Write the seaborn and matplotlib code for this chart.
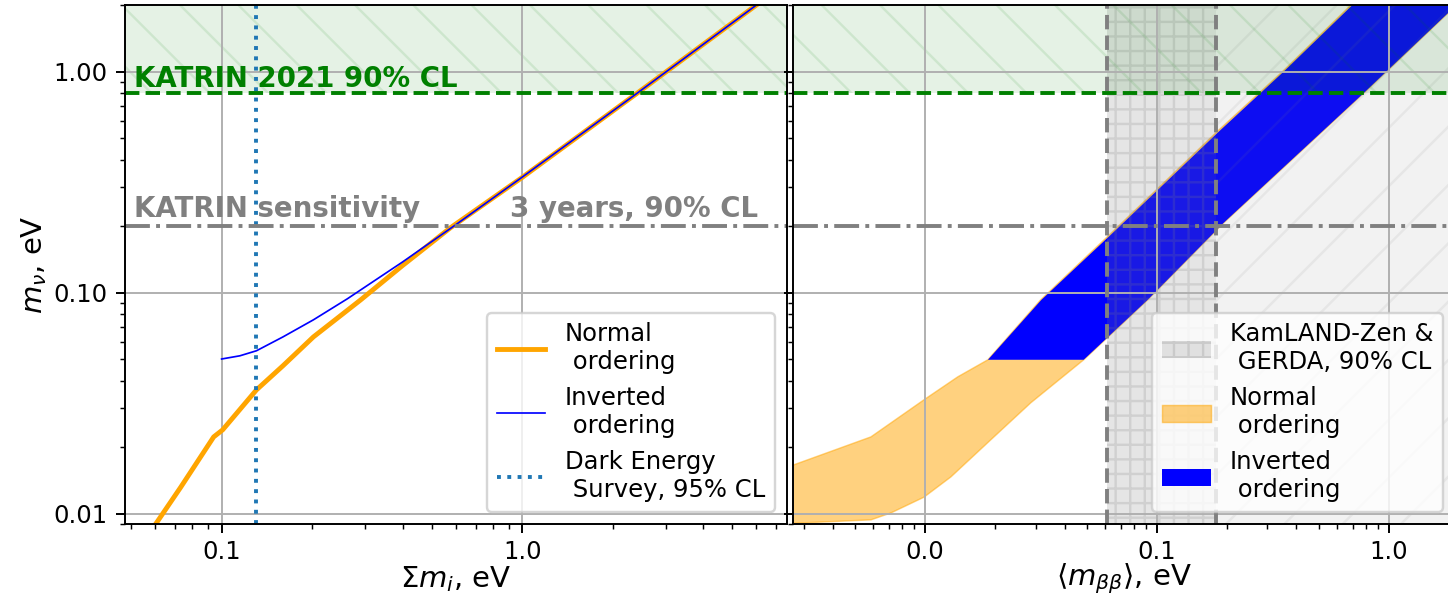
import numpy as np
import pandas as pd
import seaborn as sns
import matplotlib
matplotlib.use("Agg")
import matplotlib.pyplot as plt
from matplotlib.ticker import FixedLocator, FormatStrFormatter, NullFormatter

# ---------------- data ----------------
# Left panel: effective beta mass vs sum of masses
sum_no = [0.059, 0.0731, 0.0941, 0.1008, 0.1306, 0.16, 0.202, 0.29, 0.40, 0.577, 1.0, 2.41, 6.5]
m_no = [0.0086, 0.0132, 0.0223, 0.0240, 0.0364, 0.0468, 0.0632, 0.0929, 0.133, 0.197, 0.333, 0.80, 2.17]
sum_io = [0.1, 0.115, 0.1306, 0.16, 0.202, 0.262, 0.40, 0.60, 1.0, 2.41, 6.5]
m_io = [0.0502, 0.0519, 0.0547, 0.0632, 0.0755, 0.094, 0.138, 0.203, 0.334, 0.80, 2.17]

des_limit = 0.13          # Dark Energy Survey, 95% CL (sum of masses)
katrin_2021 = 0.8         # KATRIN 2021 90% CL
katrin_sens = 0.2         # KATRIN sensitivity, 3 years
kamland_lo = 0.061        # KamLAND-Zen & GERDA band
kamland_hi = 0.18

# Right panel bands: m_nu (y) vs <m_bb> (x)
no_left_x = [0.0015, 0.00272, 0.00585, 0.0099, 0.01387, 0.0187, 0.0316, 0.0625, 0.180, 0.348, 0.69, 0.76]
no_left_y = [0.0133, 0.01667, 0.0223, 0.0328, 0.0417, 0.0498, 0.093, 0.183, 0.53, 1.0, 2.01, 2.2]
no_right_x = [0.0015, 0.00292, 0.00585, 0.00713, 0.0099, 0.01294, 0.0192, 0.0286, 0.0484, 0.0914, 0.194, 0.78, 1.81, 2.2]
no_right_y = [0.0089, 0.0091, 0.0094, 0.0101, 0.0119, 0.0147, 0.0216, 0.0318, 0.0498, 0.093, 0.207, 0.80, 1.85, 2.25]

io_left_x = [0.0187, 0.0318, 0.0633, 0.183, 0.352, 0.70, 0.77]
io_left_y = [0.0498, 0.093, 0.183, 0.53, 1.0, 2.01, 2.2]
io_right_x = [0.0484, 0.0914, 0.194, 0.78, 1.81, 2.2]
io_right_y = [0.0498, 0.093, 0.207, 0.80, 1.85, 2.25]

xlim_left = (0.0476, 7.59)
xlim_right = (0.0027, 1.94)
ylim = (0.0090, 2.01)

# ---------------- figure ----------------
DPI = 175
fig = plt.figure(figsize=(1448 / DPI, 598 / DPI), dpi=DPI)
axL = fig.add_axes([0.0861, 0.1237, 0.4574, 0.8684])
axR = fig.add_axes([0.5477, 0.1237, 0.4574, 0.8684], sharey=axL)

for ax in (axL, axR):
    ax.set_xscale("log")
    ax.set_yscale("log")

# ---- left panel ----
sns.lineplot(x=sum_no, y=m_no, ax=axL, color="orange", lw=2.0,
             label="Normal\n ordering", sort=False, estimator=None)
sns.lineplot(x=sum_io, y=m_io, ax=axL, color="blue", lw=0.7,
             label="Inverted\n ordering", sort=False, estimator=None)
axL.axvline(des_limit, color="tab:blue", ls=":", lw=1.6,
            label="Dark Energy\n Survey, 95% CL")

# ---- right panel bands ----
def band(ax, lx, ly, rx, ry, **kw):
    px = np.concatenate([lx, rx[::-1]])
    py = np.concatenate([ly, ry[::-1]])
    return ax.fill(px, py, **kw)[0]

no_patch = band(axR, no_left_x, no_left_y, no_right_x, no_right_y,
                facecolor="orange", edgecolor="orange", alpha=0.5, lw=0.6, zorder=1)
io_patch = band(axR, io_left_x, io_left_y, io_right_x, io_right_y,
                facecolor="blue", edgecolor="none", lw=0, zorder=1)

kz = axR.axvspan(kamland_lo, kamland_hi, facecolor="gray", edgecolor="gray",
                 alpha=0.2, hatch="++", lw=0, zorder=1.1)
axR.axvspan(kamland_hi, 100, facecolor="gray", edgecolor="gray",
            alpha=0.1, hatch="/", lw=0, zorder=1.1)
for xv in (kamland_lo, kamland_hi):
    axR.axvline(xv, color="gray", ls="--", lw=1.6)

# ---- common horizontal limits ----
for ax in (axL, axR):
    ax.axhspan(katrin_2021, 100, facecolor="green", edgecolor="green",
               alpha=0.1, hatch="\\", lw=0, zorder=1.1)
    ax.axhline(katrin_2021, color="green", ls="--", lw=1.6)
    ax.axhline(katrin_sens, color="gray", ls="-.", lw=1.6)
    ax.grid(True, which="major", color="#b0b0b0", lw=0.8)

axL.text(0.051, 0.855, "KATRIN 2021 90% CL", color="green",
         fontweight="bold", fontsize=11.4)
axL.text(0.051, 0.221, "KATRIN sensitivity", color="gray",
         fontweight="bold", fontsize=11.4)
axL.text(0.912, 0.221, "3 years, 90% CL", color="gray",
         fontweight="bold", fontsize=11.4)

# ---- axes formatting ----
axL.set_xlim(*xlim_left)
axR.set_xlim(*xlim_right)
axL.set_ylim(*ylim)

axL.yaxis.set_major_locator(FixedLocator([0.01, 0.1, 1.0]))
axL.yaxis.set_major_formatter(FormatStrFormatter("%.2f"))
axL.yaxis.set_minor_formatter(NullFormatter())
axL.xaxis.set_major_locator(FixedLocator([0.1, 1.0]))
axR.xaxis.set_major_locator(FixedLocator([0.01, 0.1, 1.0]))
for ax in (axL, axR):
    ax.xaxis.set_major_formatter(FormatStrFormatter("%.1f"))
    ax.xaxis.set_minor_formatter(NullFormatter())
    ax.tick_params(labelsize=10)
    ax.tick_params(axis="x", pad=3)
plt.setp(axR.get_yticklabels(), visible=False)

axL.set_xlabel(r"$\Sigma m_i$, eV", fontsize=12, labelpad=0)
axR.set_xlabel(r"$\langle m_{\beta\beta}\rangle$, eV", fontsize=12, labelpad=-1)
axL.set_ylabel(r"$m_\nu$, eV", fontsize=12, labelpad=2)

axL.legend(loc="lower right", fontsize=10)
axR.legend(handles=[kz, no_patch, io_patch],
           labels=["KamLAND-Zen &\n GERDA, 90% CL", "Normal\n ordering", "Inverted\n ordering"],
           loc="lower right", fontsize=10)

fig.savefig("out.png", dpi=DPI)
